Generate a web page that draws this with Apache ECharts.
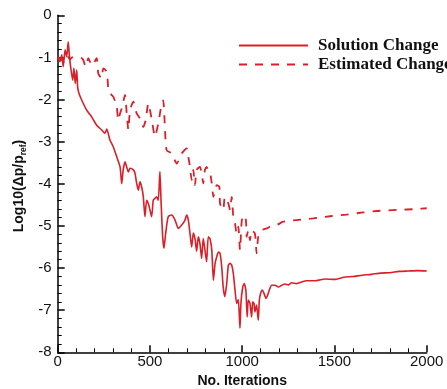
<!DOCTYPE html>
<html>
<head>
<meta charset="utf-8">
<script src="https://cdn.jsdelivr.net/npm/echarts@6/dist/echarts.min.js"></script>
<style>
  html, body { margin: 0; padding: 0; background: #fff; }
  #chart { width: 447px; height: 389px; }
</style>
</head>
<body>
<div id="chart"></div>
<script>
// Convergence history: log10 of the pressure change per iteration

const solutionIter = [
  0, 12, 22, 30, 40, 49, 57, 63, 70,
  81, 88, 95, 103, 108, 115, 130, 157, 184, 211,
  238, 256, 266, 283, 301, 320, 338, 347, 355, 365,
  374, 383, 392, 410, 419, 428, 437, 446, 455, 464,
  473, 482, 491, 500, 509, 518, 527, 536, 545, 554,
  560, 569, 576, 585, 599, 618, 636, 654, 672, 690,
  699, 708, 717, 726, 735, 744, 753, 762, 771, 780,
  789, 798, 807, 816, 825, 835, 844, 853, 862, 871,
  880, 889, 897, 906, 916, 925, 934, 943, 952, 961,
  970, 979, 988, 993, 1003, 1011, 1020, 1027, 1033, 1042,
  1051, 1057, 1064, 1069, 1078, 1087, 1093, 1100, 1109, 1118,
  1129, 1138, 1147, 1160, 1178, 1196, 1214, 1232, 1250, 1268,
  1295, 1322, 1349, 1400, 1450, 1500, 1550, 1600, 1650, 1700,
  1750, 1800, 1850, 1900, 1950, 2000
];
const solutionChange = [
  -1.00, -1.10, -0.94, -1.22, -0.82, -0.98, -0.63, -0.94, -1.22,
  -1.54, -1.26, -1.62, -1.30, -1.70, -1.85, -2.01, -2.25, -2.41, -2.61,
  -2.72, -2.80, -2.70, -2.96, -3.12, -3.36, -3.60, -4.00, -3.67, -3.48,
  -3.60, -3.72, -3.63, -3.67, -3.75, -3.99, -4.15, -3.95, -4.07, -4.31,
  -4.78, -4.39, -4.47, -4.62, -4.78, -4.39, -4.35, -4.31, -4.39, -3.71,
  -4.39, -5.26, -5.53, -5.18, -4.78, -4.74, -4.86, -5.06, -4.98, -4.86,
  -4.74, -4.86, -5.18, -5.50, -5.17, -5.30, -5.60, -5.26, -5.42, -5.77,
  -5.30, -5.57, -5.85, -5.26, -5.30, -5.57, -6.29, -5.89, -5.73, -5.62,
  -5.65, -5.97, -6.45, -6.68, -6.37, -5.93, -5.89, -5.93, -6.13, -6.52,
  -6.84, -6.75, -7.43, -6.84, -6.45, -6.37, -6.53, -7.16, -6.76, -6.84,
  -7.16, -6.80, -6.84, -7.04, -6.88, -7.24, -6.76, -6.60, -6.52, -6.60,
  -6.72, -6.64, -6.52, -6.41, -6.41, -6.45, -6.41, -6.38, -6.40, -6.35,
  -6.37, -6.33, -6.30, -6.30, -6.26, -6.27, -6.22, -6.20, -6.17, -6.15,
  -6.12, -6.11, -6.08, -6.07, -6.06, -6.07
];

const estimatedIter = [
  0, 18, 34, 50, 67, 77, 99, 121, 137, 152,
  166, 175, 186, 211, 220, 238, 247, 266, 274, 283,
  301, 320, 328, 338, 347, 365, 374, 383, 392, 410,
  428, 446, 464, 477, 491, 509, 527, 545, 564, 572,
  581, 590, 618, 645, 672, 699, 708, 717, 726, 735,
  744, 753, 771, 780, 789, 798, 807, 816, 825, 835,
  844, 853, 862, 876, 880, 897, 906, 925, 934, 943,
  952, 961, 970, 979, 988, 997, 1006, 1020, 1024, 1033,
  1042, 1051, 1069, 1078, 1087, 1105, 1133, 1150, 1187, 1223,
  1295, 1385, 1476, 1566, 1656, 1747, 1837, 1945, 2000
];
const estimatedChange = [
  -1.00, -1.05, -1.10, -0.95, -1.05, -1.00, -1.00, -1.00, -1.05, -1.22,
  -1.02, -1.10, -1.20, -1.02, -1.38, -1.50, -1.26, -1.34, -1.73, -1.85,
  -1.93, -2.17, -2.49, -2.33, -2.21, -1.89, -2.33, -2.72, -2.25, -2.05,
  -2.33, -2.45, -2.65, -2.49, -2.09, -2.45, -2.88, -2.57, -2.09, -2.02,
  -2.65, -3.20, -3.28, -3.52, -3.28, -3.16, -3.36, -3.60, -3.91, -3.67,
  -4.03, -3.67, -3.60, -3.75, -3.99, -3.67, -3.60, -3.67, -3.71, -3.99,
  -4.31, -4.15, -4.03, -4.07, -4.47, -4.62, -4.31, -4.47, -4.62, -4.31,
  -4.78, -4.94, -5.18, -5.02, -5.57, -4.90, -4.74, -4.86, -5.26, -5.10,
  -5.34, -5.10, -5.18, -5.65, -5.26, -5.10, -5.06, -5.02, -4.98, -4.90,
  -4.86, -4.82, -4.77, -4.73, -4.68, -4.64, -4.62, -4.60, -4.58
];

const xTicks = { min: 0, max: 2000, step: 500 };
const yTicks = { min: -8, max: 0, step: 1 };

const RED = '#da1f28';
const SANS = 'Liberation Sans, Arial, sans-serif';
const pairs = (xs, ys) => xs.map((x, i) => [x, ys[i]]);

const chart = echarts.init(document.getElementById('chart'), null, { renderer: 'canvas' });

// shared look of both axes: black spine, inward major and minor ticks
function axisStyle(labelMargin) {
  return {
    axisLine: { show: true, lineStyle: { color: '#000', width: 1.5 } },
    axisTick: { show: true, inside: true, length: 7, lineStyle: { color: '#000', width: 1.5 } },
    minorTick: { show: true, splitNumber: 5, length: 4, lineStyle: { color: '#000', width: 1 } },
    splitLine: { show: false },
    axisLabel: { color: '#111', fontFamily: SANS, fontSize: 15, margin: labelMargin, formatter: v => String(v) }
  };
}

const xAxisStyle = axisStyle(2);
// the iteration axis rests on the zero of a hidden helper axis, i.e. the bottom edge
xAxisStyle.axisLine.onZeroAxisIndex = 1;

chart.setOption({
  animation: false,
  backgroundColor: '#fff',
  grid: { left: 57.7, right: 20.3, top: 15.3, bottom: 36.7, containLabel: false, outerBoundsMode: 'none' },
  legend: {
    orient: 'vertical',
    left: 238,
    top: 37,
    padding: 0,
    itemWidth: 69,
    itemHeight: 14,
    itemGap: 2,
    itemStyle: { opacity: 0 },
    textStyle: {
      fontFamily: 'Liberation Serif, Times New Roman, serif',
      fontWeight: 'bold',
      fontSize: 17,
      color: '#111',
      padding: [0, 0, 0, 5]
    },
    data: ['Solution Change', 'Estimated Change']
  },
  graphic: [
    {
      type: 'text',
      x: 19,
      y: 186,
      rotation: Math.PI / 2,
      style: {
        text: '{a|Log10(Δp/p}{s|ref}{a|)}',
        align: 'center',
        verticalAlign: 'middle',
        rich: {
          a: { fill: '#111', fontFamily: SANS, fontWeight: 'bold', fontSize: 14, lineHeight: 19 },
          s: { fill: '#111', fontFamily: SANS, fontWeight: 'bold', fontSize: 8.5, lineHeight: 19, verticalAlign: 'bottom', padding: [7, 0, 0, 0] }
        }
      }
    }
  ],
  xAxis: Object.assign(xAxisStyle, {
    type: 'value',
    min: xTicks.min,
    max: xTicks.max,
    interval: xTicks.step,
    name: 'No. Iterations',
    nameLocation: 'middle',
    nameGap: 19,
    nameTextStyle: { color: '#111', fontFamily: SANS, fontWeight: 'bold', fontSize: 14 }
  }),
  yAxis: [
    Object.assign(axisStyle(6), {
      type: 'value',
      min: yTicks.min,
      max: yTicks.max,
      interval: yTicks.step
    }),
    { type: 'value', min: 0, max: 1, show: false }
  ],
  series: [
    {
      name: 'Solution Change',
      type: 'line',
      data: pairs(solutionIter, solutionChange),
      showSymbol: false,
      symbol: 'none',
      smooth: 0.2,
      lineStyle: { color: RED, width: 1.6 },
      itemStyle: { color: RED }
    },
    {
      name: 'Estimated Change',
      type: 'line',
      data: pairs(estimatedIter, estimatedChange),
      showSymbol: false,
      symbol: 'none',
      smooth: 0.2,
      lineStyle: { color: RED, width: 1.8, type: [8, 8] },
      itemStyle: { color: RED }
    }
  ]
});
</script>
</body>
</html>
